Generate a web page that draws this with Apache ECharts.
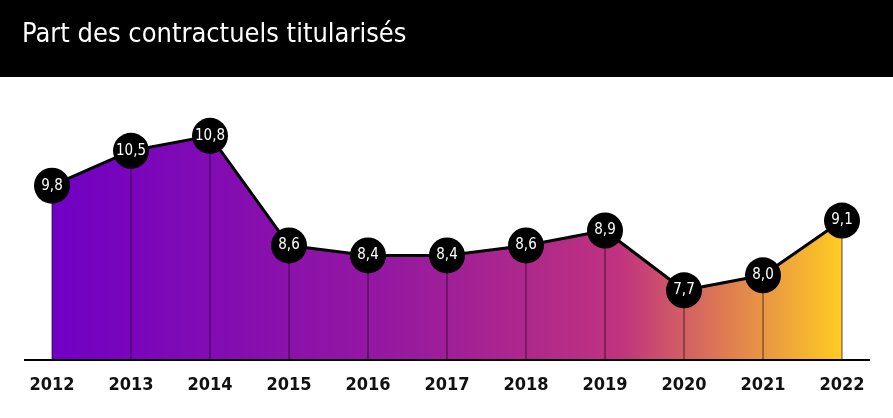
<!DOCTYPE html><html><head><meta charset="utf-8">
<script src="https://cdn.jsdelivr.net/npm/echarts@6/dist/echarts.min.js"></script>
<style>html,body{margin:0;padding:0;background:#fff}#c{width:893px;height:418px}</style></head><body><div id="c"></div><script>
const categories=['2012','2013','2014','2015','2016','2017','2018','2019','2020','2021','2022'];
const values=[9.8,10.5,10.8,8.6,8.4,8.4,8.6,8.9,7.7,8.0,9.1];
const fam='"DejaVu Sans Condensed","DejaVu Sans",sans-serif';
const chart=echarts.init(document.getElementById('c'));
chart.setOption({
animation:false,
graphic:[
{type:'rect',shape:{x:0,y:0,width:893,height:77},style:{fill:'#000'}},
{type:'text',left:22,top:21,style:{text:'Part des contractuels titularisés',fill:'#fff',font:'27px '+fam}},
{type:'line',shape:{x1:24,y1:360,x2:870,y2:360},style:{stroke:'#000',lineWidth:2},z:100}
],
grid:{left:52,right:51,top:101,bottom:58},
xAxis:{type:'category',data:categories,boundaryGap:false,axisLine:{show:false},axisTick:{show:false},
 axisLabel:{color:'#111',fontSize:18,fontWeight:'bold',fontFamily:fam,margin:16}},
yAxis:{type:'value',min:6.3,max:11.5,show:false,splitLine:{show:false}},
series:[
{type:'line',data:values,symbol:'none',lineStyle:{width:0},z:2,silent:true,
 areaStyle:{opacity:1,color:new echarts.graphic.LinearGradient(0,0,1,0,[{offset:0,color:'#7000c4'},{offset:0.45,color:'#981a9e'},{offset:0.72,color:'#c0337e'},{offset:1,color:'#ffcc22'}])}},
{type:'bar',data:values,barWidth:1,itemStyle:{color:'rgba(30,0,30,0.7)'},z:3,silent:true},
{type:'line',data:values,lineStyle:{color:'#000',width:3},symbol:'circle',symbolSize:36,
 itemStyle:{color:'#000'},z:5,
 label:{show:true,position:'inside',color:'#fff',fontSize:15,fontFamily:fam,formatter:p=>String(p.value).replace('.',',').replace(/^(\d+)$/,'$1,0')}}
]});
</script></body></html>
